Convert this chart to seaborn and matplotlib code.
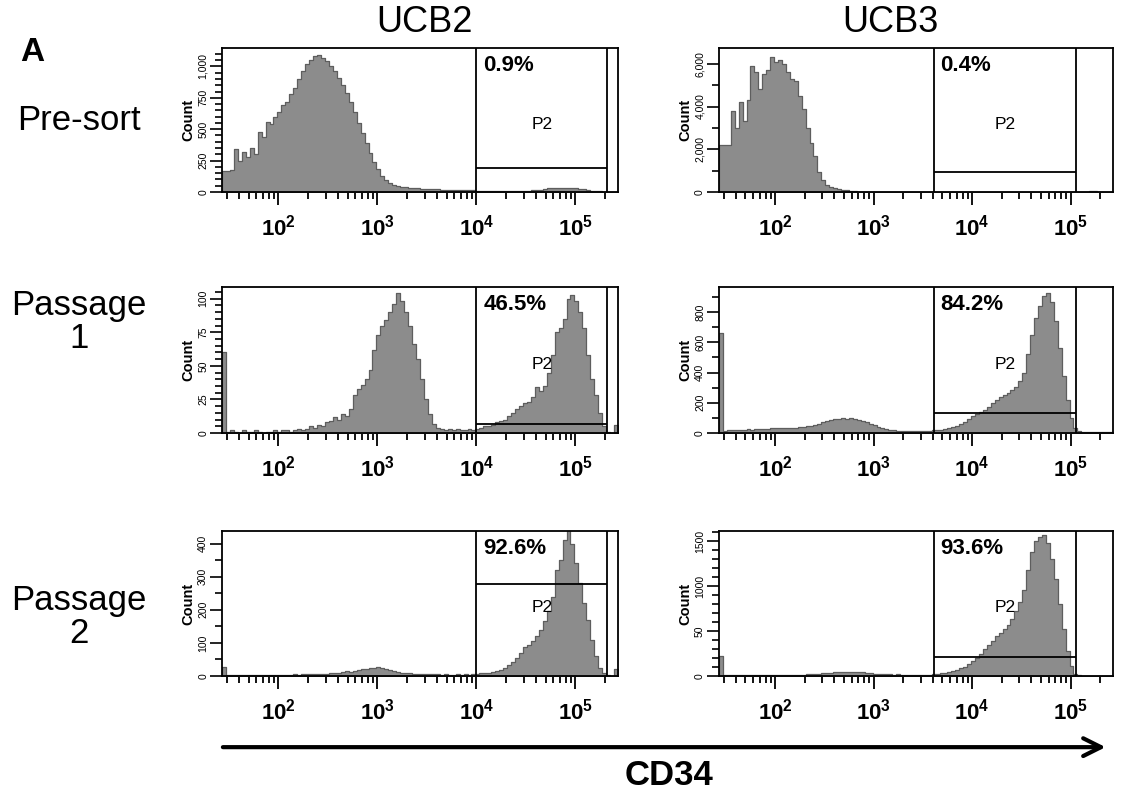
import numpy as np
import pandas as pd
import matplotlib
matplotlib.use("Agg")
import matplotlib.pyplot as plt
import matplotlib.ticker as mticker
import matplotlib.transforms as mtransforms
import seaborn as sns

# ---------------- data ----------------
# histogram binning in log10(CD34) units
log_lo = 1.43
log_hi = 5.43
n_bins = 100

samples = ["UCB2", "UCB3"]
stages = ["Pre-sort", "Passage\n1", "Passage\n2"]

ucb2_presort = [170, 165, 175, 340, 250, 320, 280, 350, 300, 480,
                440, 560, 540, 600, 640, 690, 720, 780, 830, 900,
                960, 1020, 1050, 1080, 1090, 1070, 1040, 1000, 960, 910,
                850, 790, 720, 640, 550, 470, 390, 310, 240, 180,
                130, 95, 70, 55, 45, 40, 36, 33, 30, 28,
                27, 25, 22, 20, 20, 19, 18, 18, 17, 17,
                16, 16, 15, 15, 8, 8, 7, 7, 8, 8,
                8, 9, 8, 9, 9, 10, 10, 11, 12, 14,
                18, 24, 30, 32, 32, 30, 31, 29, 28, 30,
                26, 22, 14, 10, 8, 5, 3, 0, 0, 0]
ucb3_presort = [2200, 2200, 2200, 3800, 3000, 4200, 3300, 4300, 5900, 5600,
                4800, 5500, 5700, 6300, 6100, 6200, 6000, 5600, 5300, 5200,
                4500, 3900, 3000, 2300, 1700, 950, 550, 350, 250, 170,
                120, 90, 70, 50, 30, 15, 10, 8, 6, 5,
                4, 4, 3, 3, 3, 2, 2, 2, 2, 2,
                2, 2, 2, 2, 2, 2, 2, 2, 2, 2,
                2, 2, 2, 2, 3, 3, 3, 3, 3, 3,
                3, 3, 3, 3, 3, 4, 4, 4, 4, 4,
                4, 4, 5, 5, 5, 5, 5, 5, 5, 5,
                5, 5, 4, 4, 40, 60, 20, 5, 0, 0]
ucb2_p1 = [60, 1, 2, 1, 0, 2, 1, 1, 2, 1,
           0, 1, 1, 2, 1, 2, 2, 1, 2, 3,
           2, 3, 5, 4, 6, 5, 8, 9, 12, 10,
           14, 13, 18, 28, 33, 36, 40, 47, 62, 73,
           80, 84, 90, 96, 104, 98, 90, 80, 66, 55,
           40, 25, 14, 7, 4, 3, 2, 3, 2, 3,
           2, 2, 3, 2, 3, 4, 5, 5, 6, 8,
           9, 10, 13, 15, 18, 20, 22, 23, 27, 34,
           31, 35, 45, 58, 75, 78, 85, 100, 103, 98,
           90, 78, 58, 40, 28, 15, 5, 1, 0, 6]
ucb3_p1 = [660, 15, 20, 18, 22, 20, 22, 25, 22, 24,
           26, 25, 28, 30, 32, 30, 33, 35, 34, 36,
           38, 40, 44, 48, 55, 62, 70, 80, 85, 92,
           95, 98, 92, 96, 90, 85, 80, 72, 60, 52,
           42, 32, 26, 20, 18, 15, 14, 16, 14, 12,
           15, 13, 14, 16, 18, 20, 22, 25, 30, 40,
           48, 62, 75, 90, 110, 125, 140, 155, 175, 200,
           220, 235, 250, 265, 285, 305, 345, 400, 520, 650,
           760, 840, 910, 930, 870, 740, 560, 380, 220, 100,
           35, 12, 8, 6, 5, 5, 4, 5, 4, 6]
ucb2_p2 = [28, 2, 3, 2, 3, 4, 3, 2, 3, 4,
           3, 2, 3, 3, 4, 3, 4, 4, 5, 4,
           5, 6, 5, 6, 7, 6, 7, 8, 9, 10,
           12, 14, 13, 16, 18, 20, 22, 25, 24, 28,
           24, 22, 18, 16, 12, 10, 9, 8, 7, 6,
           6, 5, 5, 6, 5, 4, 5, 4, 4, 5,
           4, 5, 4, 5, 6, 8, 9, 10, 12, 14,
           18, 24, 32, 42, 55, 70, 88, 95, 105, 120,
           140, 165, 195, 240, 320, 350, 410, 440, 400, 340,
           280, 220, 170, 110, 60, 25, 8, 2, 0, 22]
ucb3_p2 = [220, 8, 6, 7, 6, 7, 8, 6, 7, 8,
           7, 6, 8, 7, 8, 7, 8, 9, 8, 9,
           10, 14, 20, 22, 26, 24, 28, 32, 36, 40,
           45, 42, 48, 44, 46, 42, 40, 36, 30, 26,
           22, 20, 18, 17, 16, 18, 15, 16, 14, 15,
           16, 15, 14, 16, 20, 24, 28, 35, 42, 55,
           68, 85, 105, 135, 165, 200, 250, 300, 340, 390,
           440, 480, 520, 570, 630, 720, 820, 960, 1180, 1380,
           1500, 1550, 1570, 1480, 1300, 1080, 800, 520, 280, 110,
           25, 6, 4, 3, 2, 2, 1, 1, 0, 0]

counts = [[ucb2_presort, ucb3_presort],
          [ucb2_p1, ucb3_p1],
          [ucb2_p2, ucb3_p2]]

percent_labels = [["0.9%", "0.4%"], ["46.5%", "84.2%"], ["92.6%", "93.6%"]]
gate_name = "P2"
gate_lo = [4.0, 3.61]      # log10 gate start per sample
gate_hi = [5.32, 5.06]     # log10 gate end per sample
gate_level = [[192, 916], [6.5, 129], [277, 212]]

y_top = [[1147, 6742], [108.7, 967], [438, 1611]]
y_ticks = [[[0, 250, 500, 750, 1000], [0, 2000, 4000, 6000]],
           [[0, 25, 50, 75, 100], [0, 200, 400, 600, 800]],
           [[0, 100, 200, 300, 400], [0, 500, 1000, 1500]]]
y_ticklabels = [[["0", "250", "500", "750", "1,000"], ["0", "2,000", "4,000", "6,000"]],
                [["0", "25", "50", "75", "100"], ["0", "200", "400", "600", "800"]],
                [["0", "100", "200", "300", "400"], ["0", "50", "1000", "1500"]]]
y_minor = [[50, 1000], [5, 100], [50, 100]]

x_ticks = [1e2, 1e3, 1e4, 1e5]
x_ticklabels = [r"$\mathbf{10^{2}}$", r"$\mathbf{10^{3}}$", r"$\mathbf{10^{4}}$", r"$\mathbf{10^{5}}$"]
axis_title = "CD34"

# ---------------- style ----------------
sns.set_theme(style="ticks")
plt.rcParams["font.family"] = ["Liberation Sans", "DejaVu Sans"]
plt.rcParams["mathtext.fontset"] = "custom"
plt.rcParams["mathtext.rm"] = "Liberation Sans"
plt.rcParams["mathtext.bf"] = "Liberation Sans:bold"
for key in ["text.color", "axes.labelcolor", "xtick.color", "ytick.color", "axes.edgecolor"]:
    plt.rcParams[key] = "black"

fig = plt.figure(figsize=(11.23, 7.94), dpi=100)

col_left = [0.1977, 0.6402]
col_width = [0.3526, 0.3508]
row_bottom = [0.7582, 0.4547, 0.1486]
row_height = [0.1814, 0.1839, 0.1826]

bin_w = (log_hi - log_lo) / n_bins
centers = 10 ** (log_lo + (np.arange(n_bins) + 0.5) * bin_w)

for r in range(3):
    for c in range(2):
        ax = fig.add_axes([col_left[c], row_bottom[r], col_width[c], row_height[r]])
        df = pd.DataFrame({"cd34": centers, "count": counts[r][c]})
        sns.histplot(data=df, x="cd34", weights="count", bins=n_bins,
                     binrange=(log_lo, log_hi), log_scale=True,
                     element="step", fill=True, color="#8c8c8c",
                     edgecolor="#5e5e5e", linewidth=0.9, alpha=1.0, ax=ax)
        ax.set_xlim(10 ** log_lo, 10 ** log_hi)
        ax.set_ylim(0, y_top[r][c])

        # x axis
        ax.xaxis.set_major_locator(mticker.FixedLocator(x_ticks))
        ax.xaxis.set_major_formatter(mticker.FixedFormatter(x_ticklabels))
        ax.xaxis.set_minor_locator(mticker.LogLocator(base=10, subs=np.arange(2, 10), numticks=20))
        ax.xaxis.set_minor_formatter(mticker.NullFormatter())
        ax.tick_params(axis="x", which="major", length=9, width=1.3, direction="out",
                       labelsize=16, pad=7, color="black", labelcolor="black")
        ax.tick_params(axis="x", which="minor", length=5, width=1.3, direction="out", color="black")

        # y axis
        ax.yaxis.set_major_locator(mticker.FixedLocator(y_ticks[r][c]))
        ax.yaxis.set_major_formatter(mticker.FixedFormatter(y_ticklabels[r][c]))
        ax.yaxis.set_minor_locator(mticker.MultipleLocator(y_minor[r][c]))
        ax.tick_params(axis="y", which="major", length=9, width=1.2, direction="out",
                       labelsize=7.5, pad=1, color="black", labelcolor="black")
        ax.tick_params(axis="y", which="minor", length=5, width=1.2, direction="out", color="black")
        for lab in ax.get_yticklabels():
            lab.set_rotation(90)
            lab.set_va("center")
            lab.set_ha("right")
        ax.set_ylabel("Count", fontsize=10.5, fontweight="bold", labelpad=2, color="black")
        ax.set_xlabel("")

        for sp in ax.spines.values():
            sp.set_visible(True)
            sp.set_color("black")
            sp.set_linewidth(1.3)

        # gate
        glo = 10 ** gate_lo[c]
        ghi = 10 ** gate_hi[c]
        ax.axvline(glo, color="black", lw=1.3)
        ax.axvline(ghi, color="black", lw=1.3)
        ax.hlines(gate_level[r][c], glo, ghi, color="black", lw=1.3)
        trans = mtransforms.blended_transform_factory(ax.transData, ax.transAxes)
        ax.annotate(percent_labels[r][c], xy=(glo, 1.0), xycoords=trans,
                    xytext=(5, -5), textcoords="offset points",
                    ha="left", va="top", fontsize=16, fontweight="bold", color="black")
        ax.text(10 ** ((gate_lo[c] + gate_hi[c]) / 2), 0.47, gate_name, transform=trans,
                ha="center", va="center", fontsize=12.5, color="black")

# headers & row labels
fig.text(0.378, 0.972, samples[0], ha="center", va="center", fontsize=26)
fig.text(0.7925, 0.972, samples[1], ha="center", va="center", fontsize=26)
fig.text(0.029, 0.934, "A", ha="center", va="center", fontsize=24, fontweight="bold")
row_label_y = [0.848, 0.594, 0.223]
for r in range(3):
    fig.text(0.0703, row_label_y[r], stages[r], ha="center", va="center",
             fontsize=25, linespacing=1.0)

# CD34 arrow
fig.patches.append(matplotlib.patches.FancyArrowPatch(
    (0.196, 0.059), (0.987, 0.059), transform=fig.transFigure,
    arrowstyle="->", mutation_scale=32, lw=3, color="black"))
fig.text(0.5957, 0.0227, axis_title, ha="center", va="center", fontsize=25, fontweight="bold")

fig.savefig("out.png", dpi=100)
